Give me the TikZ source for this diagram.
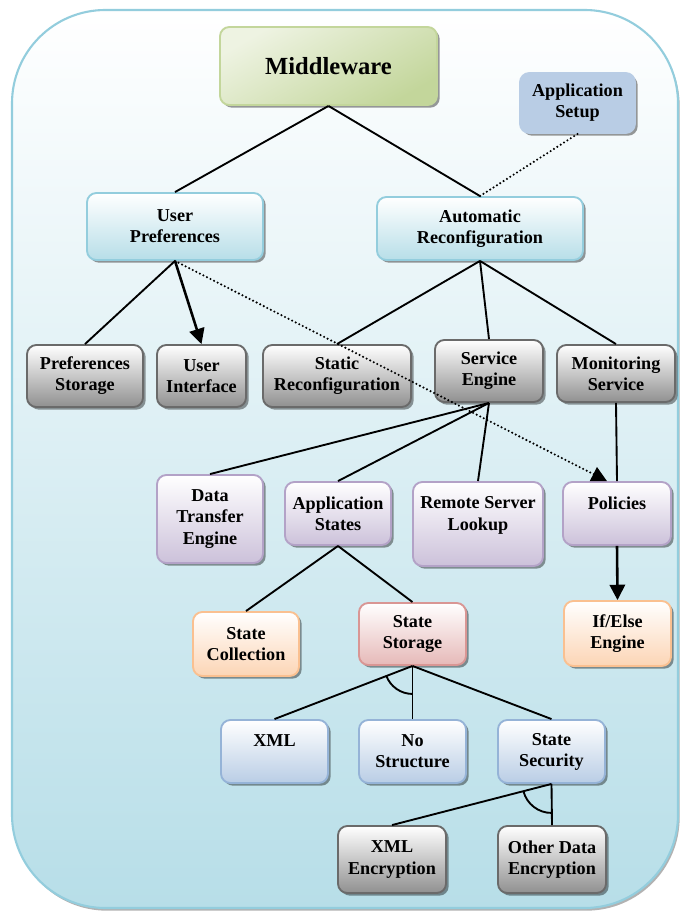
\documentclass[tikz,border=0pt]{standalone}
\usepackage{fontspec}
\setmainfont{Liberation Serif}
\usetikzlibrary{arrows.meta,shadows,angles}

\definecolor{skyline}{HTML}{93CDDD}
\definecolor{skyfill}{HTML}{B7DEE8}
\definecolor{greenline}{HTML}{C3D69B}
\definecolor{greenlight}{HTML}{EEF3E2}
\definecolor{setupfill}{HTML}{B9CDE5}
\definecolor{grayline}{HTML}{6A6A6A}
\definecolor{grayfill}{HTML}{909090}
\definecolor{purpleline}{HTML}{B3A2C7}
\definecolor{purplefill}{HTML}{CCC1DA}
\definecolor{orangeline}{HTML}{FAC090}
\definecolor{orangefill}{HTML}{FCD5B5}
\definecolor{redline}{HTML}{D99694}
\definecolor{redfill}{HTML}{E6B9B8}
\definecolor{blueline}{HTML}{95B3D7}
\definecolor{bluefill}{HTML}{B9CDE5}

\begin{document}
\begin{tikzpicture}
  [x=0.3mm, y=0.3mm]
  \tikzstyle{box} = [draw, rounded corners=2.8mm, align=center, inner sep=0pt,
    line width=1.6pt, font=\fontsize{15.5}{18}\selectfont\bfseries,
    drop shadow={shadow xshift=0.8mm, shadow yshift=-0.8mm, fill=black, opacity=0.4}];
  \tikzstyle{sky_box}    = [box, draw=skyline, top color=white, bottom color=skyfill];
  \tikzstyle{gray_box}   = [box, draw=grayline, top color=white, bottom color=grayfill];
  \tikzstyle{purple_box} = [box, draw=purpleline, top color=white, bottom color=purplefill];
  \tikzstyle{orange_box} = [box, draw=orangeline, top color=white, bottom color=orangefill];
  \tikzstyle{red_box}    = [box, draw=redline, top color=white, bottom color=redfill];
  \tikzstyle{blue_box}   = [box, draw=blueline, top color=white, bottom color=bluefill];
  \tikzstyle{link}     = [line width=1.6pt];
  \tikzstyle{dot_link} = [line width=2pt, line cap=round, dash pattern=on 0pt off 3.4pt];
  \tikzstyle{big_tip}  = [-{Triangle[length=4.6mm, width=4.6mm]}];

  \useasboundingbox (0, 0) rectangle (680, -911);

  \node[draw=skyline, line width=1.8pt, rounded corners=2.8cm, inner sep=0pt,
    minimum width=19.98cm, minimum height=26.94cm,
    top color=white, bottom color=skyfill,
    drop shadow={shadow xshift=0.5mm, shadow yshift=-0.8mm, fill=black, opacity=0.3}]
    (frame) at (345, -459) {};

  \node[box, draw=greenline, top color=greenlight, bottom color=greenline, shading angle=30,
    minimum width=6.51cm, minimum height=2.34cm, font=\fontsize{21}{25}\selectfont\bfseries]
    (mw) at (328.5, -66) {Middleware};
  \node[box, draw=setupfill, fill=setupfill, drop shadow={opacity=0},
    minimum width=3.45cm, minimum height=1.8cm] (setup) at (577.5, -103) {Application\\Setup};

  \node[sky_box, minimum width=5.28cm, minimum height=2.01cm] (upref) at (175, -226.5) {User\\Preferences};
  \node[sky_box, minimum width=6.18cm, minimum height=1.89cm] (autorc) at (480, -228.5) {Automatic\\Reconfiguration};

  \node[gray_box, minimum width=3.48cm, minimum height=1.86cm] (pstore) at (85, -376) {Preferences\\Storage};
  \node[gray_box, minimum width=2.67cm, minimum height=1.86cm] (uiface) at (201.5, -376) {User\\Interface};
  \node[gray_box, minimum width=4.44cm, minimum height=1.86cm] (staticrc) at (337, -376) {Static\\Reconfiguration};
  \node[gray_box, minimum width=3.24cm, minimum height=1.86cm] (sengine) at (489, -371) {Service\\Engine};
  \node[gray_box, minimum width=3.54cm, minimum height=1.71cm] (monitor) at (616, -373.5) {Monitoring\\Service};

  \node[purple_box, minimum width=3.18cm, minimum height=2.64cm] (dtengine) at (210, -519) {Data\\Transfer\\Engine};
  \node[purple_box, minimum width=3.18cm, minimum height=1.89cm] (appstates) at (338, -513.5) {Application\\States};
  \node[purple_box, minimum width=3.9cm, minimum height=2.52cm] (remote) at (478, -524) {Remote Server\\Lookup\\\mbox{}};
  \node[purple_box, minimum width=3.24cm, minimum height=1.89cm] (policies) at (617, -513.5) {Policies\\\mbox{}};

  \node[orange_box, minimum width=3.18cm, minimum height=1.92cm] (scollect) at (246, -644) {State\\Collection};
  \node[red_box, minimum width=3.21cm, minimum height=1.86cm] (sstorage) at (412.5, -634) {State\\Storage};
  \node[orange_box, minimum width=3.21cm, minimum height=1.95cm] (ifelse) at (617.5, -633.5) {If/Else\\Engine};

  \node[blue_box, minimum width=3.21cm, minimum height=1.89cm] (xml) at (274.5, -751.5) {XML\\\mbox{}};
  \node[blue_box, minimum width=3.21cm, minimum height=1.89cm] (nostruct) at (412.5, -751.5) {No\\Structure};
  \node[blue_box, minimum width=3.21cm, minimum height=1.89cm] (ssecurity) at (551.5, -751.5) {State\\Security};

  \node[gray_box, minimum width=3.24cm, minimum height=2.01cm] (xmlenc) at (392, -859.5) {XML\\Encryption};
  \node[gray_box, minimum width=3.24cm, minimum height=2.01cm] (otherenc) at (552, -859.5) {Other Data\\Encryption};

  \draw[link] (mw.south) -- (upref.north);
  \draw[link] (mw.south) -- (autorc.north);
  \draw[dot_link] (setup.south) -- (autorc.north);

  \draw[link] (upref.south) -- (pstore.north);
  \draw[link, big_tip, line width=2.2pt] (upref.south) -- (uiface.north);
  \draw[dot_link, big_tip] (upref.south) -- ([xshift=-3mm]policies.north);

  \draw[link] (autorc.south) -- (staticrc.north);
  \draw[link] (autorc.south) -- (sengine.north);
  \draw[link] (autorc.south) -- (monitor.north);

  \draw[link] (sengine.south) -- (dtengine.north);
  \draw[link] (sengine.south) -- (appstates.north);
  \draw[link] (sengine.south) -- (remote.north);
  \draw[link] (monitor.south) -- (policies.north);
  \draw[link, big_tip, line width=2.2pt] (policies.south) -- (ifelse.north);

  \draw[link] (appstates.south) -- (scollect.north);
  \draw[link] (appstates.south) -- (sstorage.north);

  \draw[link] (sstorage.south) -- (xml.north);
  \draw[link] (sstorage.south) -- (nostruct.north);
  \draw[link] (sstorage.south) -- (ssecurity.north);

  \draw[link] (ssecurity.south) -- (xmlenc.north);
  \draw[link] (ssecurity.south) -- (otherenc.north);

  \coordinate (ssbot) at (sstorage.south);
  \coordinate (xmltop) at (xml.north);
  \coordinate (nstop) at (nostruct.north);
  \coordinate (secbot) at (ssecurity.south);
  \coordinate (xetop) at (xmlenc.north);
  \coordinate (oetop) at (otherenc.north);
  \pic[draw, link, angle radius=8.4mm] {angle=xmltop--ssbot--nstop};
  \pic[draw, link, angle radius=8.7mm] {angle=xetop--secbot--oetop};

\end{tikzpicture}
\end{document}
